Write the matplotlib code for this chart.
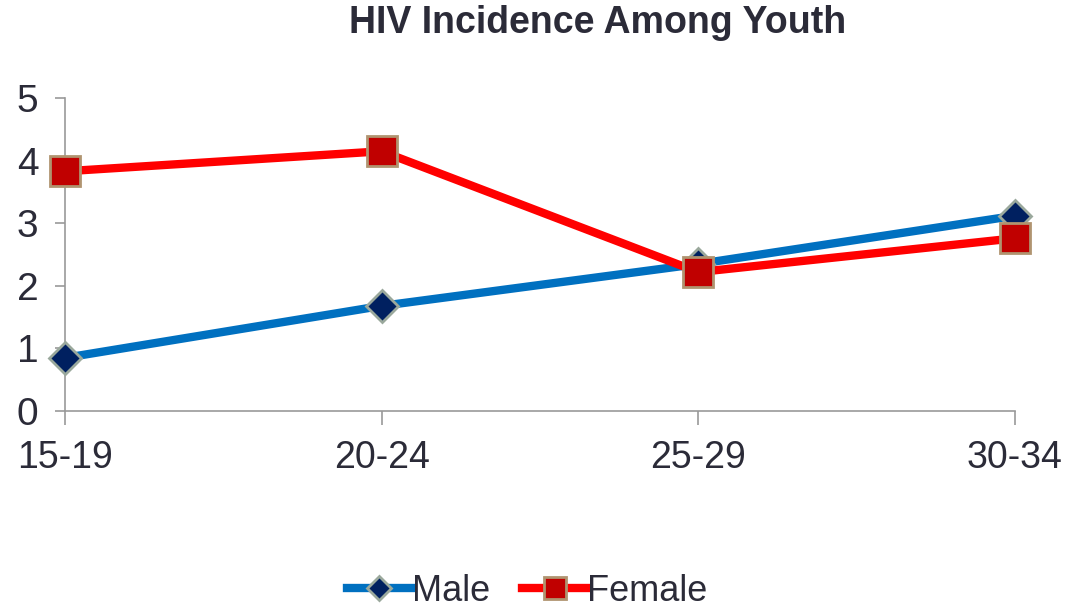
import matplotlib.pyplot as plt
import matplotlib

matplotlib.rcParams['font.family'] = ['Liberation Sans', 'DejaVu Sans']

# data
age_groups = ["15-19", "20-24", "25-29", "30-34"]
male = [0.85, 1.68, 2.35, 3.12]
female = [3.83, 4.15, 2.22, 2.76]

txt_color = '#2b2b38'
axis_color = '#999999'

fig = plt.figure(figsize=(10.65, 6.09), dpi=100)
ax = fig.add_axes([0.061, 0.325, 0.892, 0.514])

x = range(len(age_groups))
ax.plot(x, male, color='#0070c0', linewidth=6, marker='D', markersize=16,
        markerfacecolor='#002060', markeredgecolor='#9aa89c', markeredgewidth=2,
        label='Male', zorder=3, clip_on=False)
ax.plot(x, female, color='#ff0000', linewidth=6, marker='s', markersize=21,
        markerfacecolor='#c00000', markeredgecolor='#b09470', markeredgewidth=2,
        label='Female', zorder=4, clip_on=False)

ax.set_xlim(0, 3)
ax.set_ylim(0, 5)
ax.set_xticks(list(x))
ax.set_xticklabels(age_groups)
ax.set_yticks([0, 1, 2, 3, 4, 5])

for s in ['top', 'right']:
    ax.spines[s].set_visible(False)
for s in ['left', 'bottom']:
    ax.spines[s].set_color(axis_color)
    ax.spines[s].set_linewidth(1.2)

ax.tick_params(axis='y', labelsize=28, colors=txt_color, length=7, width=1.2,
               color=axis_color, pad=12)
ax.tick_params(axis='x', labelsize=27, colors=txt_color, length=10, width=1.2,
               color=axis_color, pad=11)

fig.text(0.5615, 0.962, "HIV Incidence Among Youth", ha='center', va='center',
         fontsize=27, fontweight='bold', color=txt_color)

leg = fig.legend(loc='center', bbox_to_anchor=(0.495, 0.029), ncol=2, frameon=False,
                 fontsize=26, handlelength=1.8, handletextpad=0.0, columnspacing=0.9,
                 markerscale=0.75, labelcolor=txt_color, borderpad=0.2)

plt.savefig('out.png', dpi=100)
